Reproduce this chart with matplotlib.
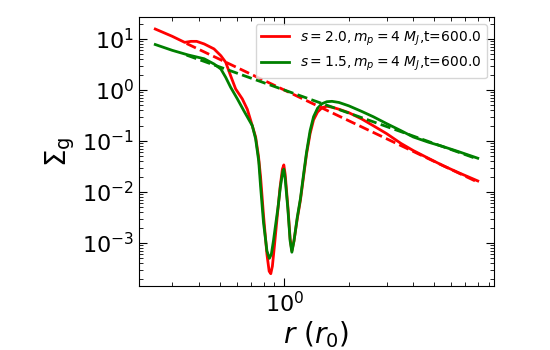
import matplotlib
matplotlib.use('Agg')
import matplotlib.pyplot as plt

# surface density profiles
r_red = [0.25, 0.30, 0.343, 0.367, 0.39, 0.423, 0.47, 0.506, 0.533, 0.562, 0.593,
         0.637, 0.672, 0.709, 0.735, 0.758, 0.775, 0.80, 0.83, 0.85, 0.865, 0.88,
         0.90, 0.925, 0.955, 0.98, 0.995, 1.01, 1.04, 1.065, 1.085, 1.11, 1.15,
         1.19, 1.23, 1.27, 1.32, 1.37, 1.43, 1.50, 1.58, 1.67, 1.80, 2.0, 2.3, 2.6,
         3.0, 3.5, 4.0, 4.7, 5.5, 6.5, 8.0]
sig_red = [15.7, 11.3, 8.6, 9.0, 9.0, 8.0, 6.4, 4.7, 3.5, 1.9, 1.05,
           0.67, 0.42, 0.20, 0.12, 0.05, 0.02, 3.5e-3, 6e-4, 2.8e-4, 2.5e-4, 3.5e-4,
           9e-4, 3e-3, 0.012, 0.028, 0.034, 0.022, 5e-3, 1.2e-3, 7e-4, 1.1e-3, 3e-3,
           7e-3, 0.02, 0.055, 0.14, 0.26, 0.37, 0.45, 0.48, 0.46, 0.42, 0.36, 0.27, 0.20,
           0.14, 0.09, 0.065, 0.046, 0.033, 0.024, 0.0165]

r_green = [0.25, 0.30, 0.354, 0.423, 0.47, 0.506, 0.533, 0.562, 0.604, 0.648, 0.709,
           0.735, 0.76, 0.775, 0.80, 0.83, 0.852, 0.87, 0.89, 0.91, 0.935, 0.96, 0.985,
           0.995, 1.01, 1.04, 1.065, 1.085, 1.11, 1.15, 1.19, 1.23, 1.27, 1.32,
           1.37, 1.43, 1.50, 1.58, 1.67, 1.80, 2.0, 2.3, 2.6, 3.0, 3.5, 4.0, 4.7,
           5.5, 6.5, 8.0]
sig_green = [7.8, 6.0, 4.9, 4.1, 3.24, 2.58, 1.77, 1.13, 0.67, 0.39, 0.20,
             0.11, 0.04, 0.013, 2.5e-3, 7e-4, 5e-4, 6e-4, 1.1e-3, 2.2e-3, 5e-3, 0.013, 0.026,
             0.028, 0.018, 4.5e-3, 1.1e-3, 6.6e-4, 1.1e-3, 3.2e-3, 7.5e-3, 0.022, 0.06, 0.16,
             0.30, 0.44, 0.54, 0.59, 0.60, 0.57, 0.49, 0.38, 0.30, 0.22, 0.16, 0.12, 0.095,
             0.078, 0.062, 0.046]

# initial power-law profiles (end points)
r_init = [0.35, 8.0]
init_red = [8.16, 0.0156]
init_green = [4.83, 0.0442]

labels = [r'$s=2.0,m_p=4\ M_J$,t=600.0', r'$s=1.5,m_p=4\ M_J$,t=600.0']

fig = plt.figure(figsize=(5.5, 3.5), dpi=100)
ax = fig.add_axes([0.253, 0.183, 0.645, 0.769])

ax.plot(r_red, sig_red, color='red', lw=2, label=labels[0])
ax.plot(r_green, sig_green, color='green', lw=2, label=labels[1])
ax.plot(r_init, init_red, color='red', lw=2, ls='--')
ax.plot(r_init, init_green, color='green', lw=2, ls='--')

ax.set_xscale('log')
ax.set_yscale('log')
ax.set_xlabel(r'$r\ (r_0)$', fontsize=20, labelpad=2)
ax.set_ylabel(r'$\Sigma_{\rm g}$', fontsize=20)
ax.tick_params(which='both', direction='in', top=True, right=True, labelsize=16)
ax.tick_params(which='major', length=6)
ax.tick_params(which='minor', length=3)

ax.legend(loc='upper right', fontsize=10)

plt.savefig('out.png', dpi=100)
